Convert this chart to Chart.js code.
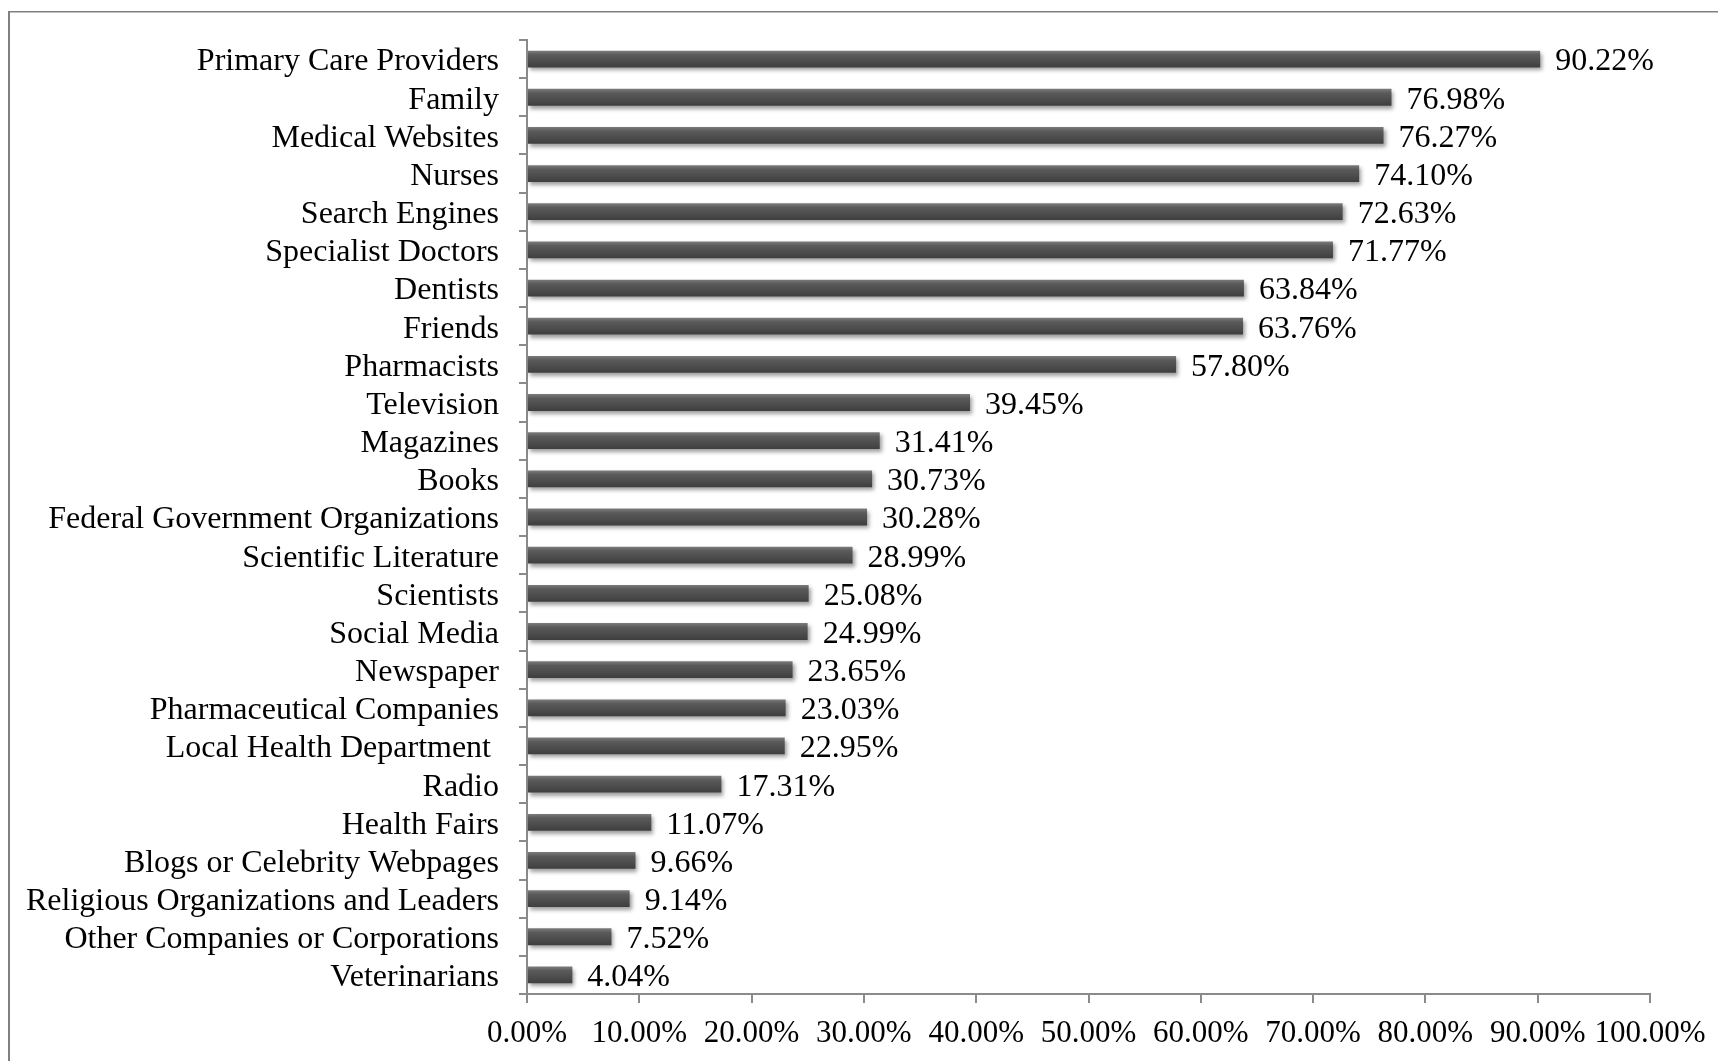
<!DOCTYPE html>
<html>
<head>
<meta charset="utf-8">
<script src="https://cdn.jsdelivr.net/npm/chart.js@4/dist/chart.umd.min.js"></script>
<style>
  html, body { margin: 0; padding: 0; background: #ffffff; }
  canvas { display: block; }
</style>
</head>
<body>
<canvas id="c" width="1718" height="1061"></canvas>
<script>
const categories = [
  "Primary Care Providers", "Family", "Medical Websites", "Nurses", "Search Engines",
  "Specialist Doctors", "Dentists", "Friends", "Pharmacists", "Television",
  "Magazines", "Books", "Federal Government Organizations", "Scientific Literature",
  "Scientists", "Social Media", "Newspaper", "Pharmaceutical Companies",
  "Local Health Department ", "Radio", "Health Fairs", "Blogs or Celebrity Webpages",
  "Religious Organizations and Leaders", "Other Companies or Corporations", "Veterinarians"
];
const values = [
  90.22, 76.98, 76.27, 74.10, 72.63, 71.77, 63.84, 63.76, 57.80, 39.45,
  31.41, 30.73, 30.28, 28.99, 25.08, 24.99, 23.65, 23.03, 22.95, 17.31,
  11.07, 9.66, 9.14, 7.52, 4.04
];
const xTickValues = [0, 10, 20, 30, 40, 50, 60, 70, 80, 90, 100];

const FONT = "'Liberation Serif', 'Times New Roman', serif";
const AXIS_COLOR = '#8a8a8a';
const BAR_FRAC = 0.44;

const framePlugin = {
  id: 'frame',
  beforeDraw(chart) {
    const ctx = chart.ctx;
    ctx.save();
    ctx.fillStyle = '#808080';
    ctx.fillRect(8, 11, 2, chart.height);
    ctx.fillRect(8, 11, chart.width, 1.5);
    ctx.restore();
  }
};

const shadowPlugin = {
  id: 'barShadow',
  beforeDatasetsDraw(chart) {
    const ctx = chart.ctx;
    ctx.save();
    ctx.shadowColor = 'rgba(0,0,0,0.38)';
    ctx.shadowBlur = 4;
    ctx.shadowOffsetX = 2;
    ctx.shadowOffsetY = 3;
  },
  afterDatasetsDraw(chart) {
    chart.ctx.restore();
  }
};

const valueLabelPlugin = {
  id: 'valueLabels',
  afterDatasetsDraw(chart) {
    const ctx = chart.ctx;
    const meta = chart.getDatasetMeta(0);
    ctx.save();
    ctx.font = "32px " + FONT;
    ctx.fillStyle = '#000000';
    ctx.textAlign = 'left';
    ctx.textBaseline = 'middle';
    meta.data.forEach((el, i) => {
      ctx.fillText(values[i].toFixed(2) + '%', el.x + 15, el.y + 3);
    });
    ctx.restore();
  }
};

function barGradient(c) {
  const ch = c.chart;
  const ys = ch.scales && ch.scales.y;
  if (c.type !== 'data' || !ys || !ys.getPixelForValue) return '#505050';
  const yc = ys.getPixelForValue(c.dataIndex);
  const h = (ys.height / categories.length) * BAR_FRAC;
  if (!isFinite(yc) || !isFinite(h) || h <= 0) return '#505050';
  const g = ch.ctx.createLinearGradient(0, yc - h / 2, 0, yc + h / 2);
  g.addColorStop(0, '#7c7c7c');
  g.addColorStop(0.25, '#5a5a5a');
  g.addColorStop(0.7, '#4a4a4a');
  g.addColorStop(1, '#3e3e3e');
  return g;
}

new Chart(document.getElementById('c'), {
  type: 'bar',
  data: {
    labels: categories,
    datasets: [{
      data: values,
      backgroundColor: barGradient,
      borderWidth: 0,
      barPercentage: BAR_FRAC,
      categoryPercentage: 1.0
    }]
  },
  options: {
    indexAxis: 'y',
    responsive: false,
    animation: false,
    events: [],
    layout: { padding: { top: 40, right: 68, bottom: 0, left: 0 } },
    plugins: {
      legend: { display: false },
      tooltip: { enabled: false },
      title: { display: false }
    },
    scales: {
      x: {
        min: 0,
        max: 100,
        afterFit(scale) { scale.height = 67; },
        afterBuildTicks(scale) { scale.ticks = xTickValues.map(v => ({ value: v })); },
        grid: {
          display: true,
          drawOnChartArea: false,
          drawTicks: true,
          tickLength: 9,
          color: AXIS_COLOR,
          lineWidth: 2
        },
        border: { display: true, color: AXIS_COLOR, width: 2 },
        ticks: {
          padding: 12,
          color: '#000000',
          font: { family: FONT, size: 31 },
          maxRotation: 0,
          autoSkip: false,
          callback: (v) => Number(v).toFixed(2) + '%'
        }
      },
      y: {
        afterFit(scale) { scale.width = 527; },
        grid: {
          display: true,
          offset: true,
          drawOnChartArea: false,
          drawTicks: true,
          tickLength: 8,
          color: AXIS_COLOR,
          lineWidth: 2
        },
        border: { display: true, color: AXIS_COLOR, width: 2 },
        ticks: {
          padding: 20,
          labelOffset: 3,
          color: '#000000',
          font: { family: FONT, size: 32 },
          autoSkip: false
        }
      }
    }
  },
  plugins: [framePlugin, shadowPlugin, valueLabelPlugin]
});
</script>
</body>
</html>
